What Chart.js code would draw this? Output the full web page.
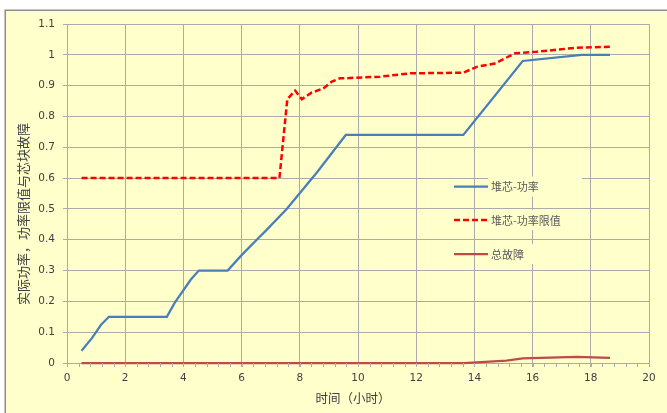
<!DOCTYPE html>
<html>
<head>
<meta charset="utf-8">
<script src="https://cdn.jsdelivr.net/npm/chart.js@4/dist/chart.umd.min.js"></script>
<style>
  html, body { margin: 0; padding: 0; background: #ffffff; }
  #wrap { width: 667px; height: 413px; }
</style>
</head>
<body>
<div id="wrap"><canvas id="c" width="667" height="413"></canvas></div>
<script>
// 堆芯相对功率、功率限值与芯块总故障随时间的变化
const coreTime   = [0.5, 0.85, 1.17, 1.44, 3.43, 3.7, 4.25, 4.53, 5.52, 6.0, 6.52, 6.86, 7.55, 8.6, 9.58, 13.62, 15.66, 17.69, 18.66];
const corePower  = [0.04, 0.08, 0.124, 0.15, 0.15, 0.195, 0.27, 0.30, 0.30, 0.35, 0.40, 0.432, 0.50, 0.62, 0.74, 0.74, 0.98, 1.0, 1.0];

const limitTime  = [0.5, 7.3, 7.57, 7.84, 8.07, 8.4, 8.81, 9.1, 9.38, 9.55, 10.76, 11.79, 13.62, 14.08, 14.7, 15.4, 16.14, 17.5, 18.66];
const limitPower = [0.6, 0.6, 0.856, 0.884, 0.856, 0.877, 0.891, 0.913, 0.924, 0.924, 0.929, 0.94, 0.942, 0.961, 0.972, 1.005, 1.01, 1.023, 1.026];

const faultTime  = [0.5, 13.62, 14.08, 15.1, 15.66, 17.52, 18.66];
const faultValue = [0, 0, 0.002, 0.008, 0.015, 0.02, 0.017];

const seriesNames = ['堆芯-功率', '堆芯-功率限值', '总故障'];
const xTitle = '时间（小时）';
const yTitle = '实际功率，功率限值与芯块故障';

const xTicks = { min: 0, max: 20, step: 2, minorStep: 0.4 };
const yTicks = { min: 0, max: 1.1, step: 0.1 };

const GRID = '#ababab';
const TEXT = '#404040';
const LEGEND_TEXT = '#595959';
const PANEL = '#ffffcc';
const NUM_FONT = '"DejaVu Sans", "Noto Sans CJK SC", sans-serif';
const CJK_FONT = '"Noto Sans CJK SC", "DejaVu Sans", sans-serif';

function toPoints(xs, ys) { return xs.map((x, i) => ({ x: x, y: ys[i] })); }

// light yellow panel with a grey frame behind the whole chart
const panelPlugin = {
  id: 'panel',
  beforeDraw(chart) {
    const ctx = chart.ctx;
    ctx.save();
    ctx.fillStyle = '#ffffff';
    ctx.fillRect(0, 0, chart.width, chart.height);
    ctx.fillStyle = PANEL;
    ctx.fillRect(5, 10, chart.width, chart.height);
    ctx.strokeStyle = '#8c8c8c';
    ctx.lineWidth = 1.5;
    ctx.strokeRect(5.25, 10.25, chart.width + 10, chart.height + 10);
    ctx.restore();
  }
};

// minor tick marks under the time axis, axis titles and the in-plot legend
const decorPlugin = {
  id: 'decor',
  afterDraw(chart) {
    const ctx = chart.ctx;
    const xs = chart.scales.x;
    const area = chart.chartArea;
    ctx.save();

    ctx.strokeStyle = GRID;
    ctx.lineWidth = 1;
    const nMinor = Math.round((xTicks.max - xTicks.min) / xTicks.minorStep);
    for (let k = 0; k <= nMinor; k++) {
      const px = Math.round(xs.getPixelForValue(xTicks.min + k * xTicks.minorStep)) + 0.5;
      ctx.beginPath();
      ctx.moveTo(px, area.bottom);
      ctx.lineTo(px, area.bottom + 4);
      ctx.stroke();
    }

    // axis titles
    ctx.fillStyle = TEXT;
    ctx.textAlign = 'center';
    ctx.textBaseline = 'middle';
    ctx.font = '12.5px ' + CJK_FONT;
    ctx.fillText(xTitle, 353, 398);

    ctx.save();
    ctx.translate(23, 214);
    ctx.rotate(-Math.PI / 2);
    ctx.font = '13px ' + CJK_FONT;
    ctx.fillText(yTitle, 0, 0);
    ctx.restore();

    // legend entries
    const rowsY = [186.5, 220, 254];
    ctx.font = '11px ' + CJK_FONT;
    ctx.textAlign = 'left';
    chart.data.datasets.forEach((ds, i) => {
      const cy = rowsY[i];
      ctx.fillStyle = PANEL;
      ctx.fillRect(488, cy - 10, 94, 20);
      ctx.strokeStyle = ds.borderColor;
      ctx.lineWidth = ds.borderWidth;
      ctx.setLineDash(ds.borderDash || []);
      ctx.beginPath();
      ctx.moveTo(454, cy);
      ctx.lineTo(488, cy);
      ctx.stroke();
      ctx.setLineDash([]);
      ctx.fillStyle = LEGEND_TEXT;
      ctx.fillText(ds.label, 491, cy + 0.5);
    });

    ctx.restore();
  }
};

new Chart(document.getElementById('c'), {
  type: 'line',
  data: {
    datasets: [
      {
        label: seriesNames[0],
        data: toPoints(coreTime, corePower),
        borderColor: '#4a7ebb',
        borderWidth: 2.25,
        pointRadius: 0,
        tension: 0,
        fill: false,
        clip: false
      },
      {
        label: seriesNames[1],
        data: toPoints(limitTime, limitPower),
        borderColor: '#ff0000',
        borderWidth: 2.5,
        borderDash: [6, 3],
        pointRadius: 0,
        tension: 0,
        fill: false,
        clip: false
      },
      {
        label: seriesNames[2],
        data: toPoints(faultTime, faultValue),
        borderColor: '#be4b48',
        borderWidth: 2.25,
        pointRadius: 0,
        tension: 0,
        fill: false,
        clip: false
      }
    ]
  },
  options: {
    responsive: false,
    devicePixelRatio: 1,
    animation: false,
    layout: { padding: { top: 24, right: 18, left: 0, bottom: 0 } },
    plugins: { legend: { display: false }, tooltip: { enabled: false } },
    scales: {
      x: {
        type: 'linear',
        min: xTicks.min,
        max: xTicks.max,
        afterFit(scale) { scale.height = 50; },
        grid: { color: GRID, lineWidth: 1, tickLength: 4, drawTicks: true },
        border: { color: GRID, width: 1 },
        ticks: {
          stepSize: xTicks.step,
          padding: 5,
          color: TEXT,
          font: { family: NUM_FONT, size: 10.5 },
          maxRotation: 0,
          callback: (v) => String(Math.round(v))
        }
      },
      y: {
        type: 'linear',
        min: yTicks.min,
        max: yTicks.max,
        afterFit(scale) { scale.width = 67; },
        grid: { color: GRID, lineWidth: 1, tickLength: 4, drawTicks: true },
        border: { color: GRID, width: 1 },
        ticks: {
          stepSize: yTicks.step,
          padding: 8,
          color: TEXT,
          font: { family: NUM_FONT, size: 10.5 },
          callback: (v) => String(Number(v.toFixed(1)))
        }
      }
    }
  },
  plugins: [panelPlugin, decorPlugin]
});
</script>
</body>
</html>
